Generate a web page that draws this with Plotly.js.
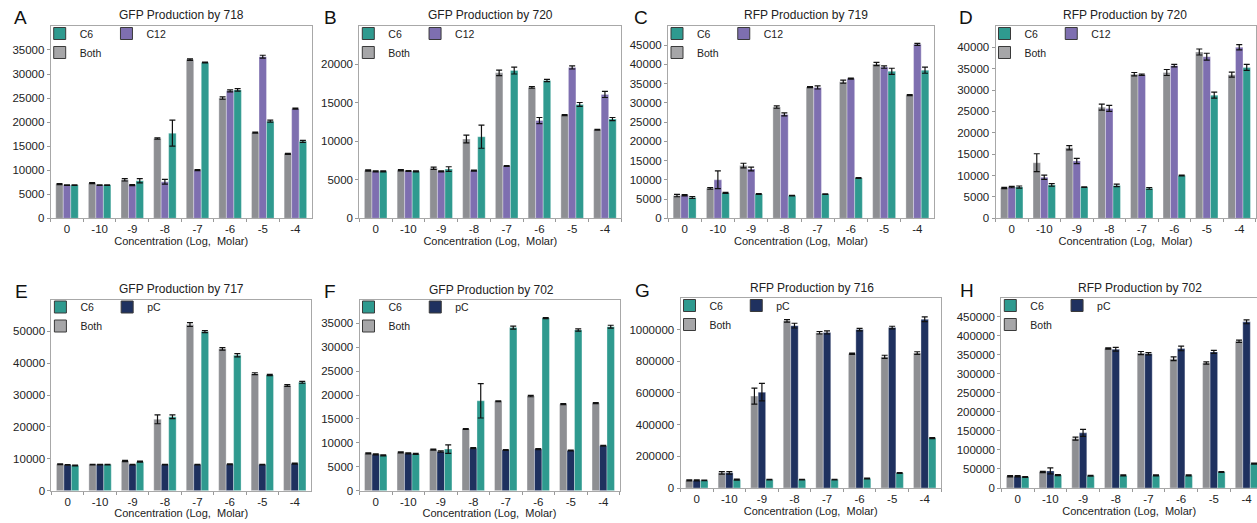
<!DOCTYPE html>
<html><head><meta charset="utf-8">
<script src="https://cdn.plot.ly/plotly-3.0.1.min.js"></script>
<style>html,body{margin:0;padding:0;background:#fff}#chart{width:1257px;height:523px}</style>
</head><body><div id="chart"></div>
<script>
// ---- data ----
const categories = ['0','-10','-9','-8','-7','-6','-5','-4'];

const A_both = [7100, 7300, 8000, 16600, 33000, 25000, 17800, 13400];
const A_both_err = [100, 100, 250, 150, 150, 250, 100, 100];
const A_c12 = [6900, 6900, 6900, 7600, 10000, 26500, 33600, 22800];
const A_c12_err = [80, 80, 100, 500, 100, 200, 300, 100];
const A_c6 = [6900, 6900, 7800, 17700, 32400, 26700, 20200, 16000];
const A_c6_err = [80, 80, 450, 2700, 100, 250, 200, 200];

const B_both = [6200, 6250, 6500, 10300, 18900, 17000, 13400, 11500];
const B_both_err = [80, 80, 150, 500, 350, 100, 60, 60];
const B_c12 = [6100, 6150, 6100, 6200, 6800, 12700, 19600, 16100];
const B_c12_err = [60, 60, 60, 60, 60, 400, 200, 400];
const B_c6 = [6100, 6100, 6400, 10600, 19200, 17900, 14800, 12900];
const B_c6_err = [60, 60, 300, 1500, 450, 150, 250, 200];

const C_both = [5900, 7800, 13700, 28900, 34100, 35500, 40100, 32000];
const C_both_err = [300, 200, 600, 300, 150, 400, 400, 150];
const C_c12 = [6000, 10000, 12800, 27000, 34000, 36300, 39300, 45200];
const C_c12_err = [150, 2300, 500, 400, 400, 150, 300, 250];
const C_c6 = [5400, 6600, 6300, 5900, 6300, 10500, 38200, 38500];
const C_c6_err = [250, 150, 100, 80, 80, 100, 800, 800];

const D_both = [7100, 13000, 16500, 26000, 33700, 34100, 38900, 33600];
const D_both_err = [150, 2100, 500, 700, 400, 700, 700, 600];
const D_c12 = [7300, 9600, 13400, 25700, 33600, 35700, 37800, 40000];
const D_c12_err = [150, 500, 600, 700, 150, 300, 800, 600];
const D_c6 = [7300, 7800, 7300, 7700, 7000, 10000, 28800, 35300];
const D_c6_err = [250, 300, 80, 300, 200, 100, 700, 700];

const E_both = [8300, 8200, 9300, 22400, 52100, 44500, 36700, 33000];
const E_both_err = [150, 100, 200, 1400, 600, 400, 300, 300];
const E_pc = [8100, 8200, 8200, 8200, 8200, 8300, 8200, 8500];
const E_pc_err = [100, 100, 100, 100, 100, 150, 100, 150];
const E_c6 = [7900, 8200, 9100, 23200, 49900, 42500, 36300, 34000];
const E_c6_err = [100, 100, 150, 600, 300, 500, 200, 300];

const F_both = [7800, 8000, 8600, 12900, 18700, 19800, 18100, 18300];
const F_both_err = [100, 100, 100, 100, 100, 150, 100, 100];
const F_pc = [7600, 7800, 8200, 8900, 8500, 8700, 8400, 9400];
const F_pc_err = [100, 100, 150, 100, 80, 100, 100, 100];
const F_c6 = [7400, 7700, 8700, 18800, 34100, 36100, 33600, 34300];
const F_c6_err = [100, 100, 900, 3600, 300, 100, 250, 300];

const G_both = [48000, 96000, 580000, 1055000, 980000, 848000, 828000, 852000];
const G_both_err = [3000, 8000, 50000, 8000, 8000, 4000, 10000, 8000];
const G_pc = [48000, 96000, 605000, 1025000, 982000, 1000000, 1013000, 1065000];
const G_pc_err = [3000, 8000, 55000, 15000, 10000, 8000, 8000, 15000];
const G_c6 = [48000, 53000, 53000, 53000, 53000, 60000, 95000, 315000];
const G_c6_err = [2000, 3000, 2000, 2000, 2000, 2000, 3000, 3000];

const H_both = [31000, 42000, 130000, 367000, 355000, 340000, 329000, 386000];
const H_both_err = [1500, 1500, 4000, 1500, 4000, 5000, 3000, 3000];
const H_pc = [31000, 45000, 145000, 365000, 353000, 367000, 358000, 437000];
const H_pc_err = [1500, 8000, 9000, 5000, 3000, 6000, 4000, 5000];
const H_c6 = [29000, 34000, 32000, 33000, 33000, 33000, 42000, 64000];
const H_c6_err = [1000, 1500, 1000, 1500, 1500, 1500, 1000, 1500];

const yTops = [40000, 25000, 50000, 45000, 60000, 40000, 1200000, 500000];
const yDticks = [5000, 5000, 5000, 5000, 10000, 5000, 200000, 50000];

// ---- panel definitions (layout only) ----
const W = 1257, H = 523;
const panels = [
  {letter:'A', title:'GFP Production by 718', mid:'C12', both:A_both, bothErr:A_both_err, midV:A_c12, midErr:A_c12_err, c6:A_c6, c6Err:A_c6_err,
   l:50.7, r:311.6, t:26, b:218.3, full:261, tx:181, ty:15, lx:12, ly:17.5},
  {letter:'B', title:'GFP Production by 720', mid:'C12', both:B_both, bothErr:B_both_err, midV:B_c12, midErr:B_c12_err, c6:B_c6, c6Err:B_c6_err,
   l:359.3, r:621.4, t:26, b:218.3, full:262, tx:490, ty:15, lx:322, ly:17.5},
  {letter:'C', title:'RFP Production by 719', mid:'C12', both:C_both, bothErr:C_both_err, midV:C_c12, midErr:C_c12_err, c6:C_c6, c6Err:C_c6_err,
   l:668, r:934, t:26, b:218.3, full:266, tx:806, ty:15, lx:632, ly:17.5},
  {letter:'D', title:'RFP Production by 720', mid:'C12', both:D_both, bothErr:D_both_err, midV:D_c12, midErr:D_c12_err, c6:D_c6, c6Err:D_c6_err,
   l:995.5, r:1255.5, t:26, b:218.3, full:260, tx:1125, ty:15, lx:957, ly:17.5},
  {letter:'E', title:'GFP Production by 717', mid:'pC', both:E_both, bothErr:E_both_err, midV:E_pc, midErr:E_pc_err, c6:E_c6, c6Err:E_c6_err,
   l:51.4, r:311, t:299.5, b:490.7, full:259.6, tx:181, ty:289, lx:13, ly:291},
  {letter:'F', title:'GFP Production by 702', mid:'pC', both:F_both, bothErr:F_both_err, midV:F_pc, midErr:F_pc_err, c6:F_c6, c6Err:F_c6_err,
   l:359.5, r:619.5, t:299.5, b:490.7, full:260, tx:491.5, ty:290, lx:322, ly:291},
  {letter:'G', title:'RFP Production by 716', mid:'pC', both:G_both, bothErr:G_both_err, midV:G_pc, midErr:G_pc_err, c6:G_c6, c6Err:G_c6_err,
   l:680.5, r:941, t:298, b:488, full:260.5, tx:811.5, ty:287.5, lx:633, ly:290},
  {letter:'H', title:'RFP Production by 702', mid:'pC', both:H_both, bothErr:H_both_err, midV:H_pc, midErr:H_pc_err, c6:H_c6, c6Err:H_c6_err,
   l:1001.3, r:1257, t:298, b:488, full:261.6, tx:1140, ty:287.5, lx:957.5, ly:290}
];

const colBoth = '#8e8f93', colC12 = '#7e6fb0', colPC = '#1f315f', colC6 = '#2f9a8f';
const FONT = 'Arial, "Liberation Sans", Helvetica, sans-serif';

const data = [];
const layout = {
  width: W, height: H,
  margin: {l:0, r:0, t:0, b:0},
  paper_bgcolor: '#fff', plot_bgcolor: '#fff',
  font: {family: FONT, size: 11.5, color: '#222'},
  barmode: 'group', bargap: 0.31, bargroupgap: 0,
  showlegend: true,
  annotations: []
};

panels.forEach((p, i) => {
  const n = i + 1;
  const xa = 'x' + (n > 1 ? n : ''), ya = 'y' + (n > 1 ? n : '');
  const lg = 'legend' + (n > 1 ? n : '');
  const midCol = p.mid === 'C12' ? colC12 : colPC;
  const errStyle = arr => ({type:'data', array:arr, visible:true, color:'#111', thickness:1.2, width:3});
  const barLine = {color:'rgba(255,255,255,0.55)', width:0.6};
  data.push({type:'bar', x:categories, y:p.both, xaxis:xa, yaxis:ya, name:'Both', offsetgroup:'both',
    marker:{color:colBoth, line:barLine}, error_y:errStyle(p.bothErr), showlegend:false, hoverinfo:'x+y'});
  data.push({type:'bar', x:categories, y:p.midV, xaxis:xa, yaxis:ya, name:p.mid, offsetgroup:'mid',
    marker:{color:midCol, line:barLine}, error_y:errStyle(p.midErr), showlegend:false, hoverinfo:'x+y'});
  data.push({type:'bar', x:categories, y:p.c6, xaxis:xa, yaxis:ya, name:'C6', offsetgroup:'c6',
    marker:{color:colC6, line:barLine}, error_y:errStyle(p.c6Err), showlegend:false, hoverinfo:'x+y'});
  // legend entries
  const legLine = {color:'#3a3a3a', width:1};
  data.push({type:'bar', x:[null], y:[null], xaxis:xa, yaxis:ya, name:'C6', offsetgroup:'c6', legend:lg, legendgroup:'g1',
    marker:{color:colC6, line:legLine}, hoverinfo:'skip'});
  data.push({type:'bar', x:[null], y:[null], xaxis:xa, yaxis:ya, name:'Both', offsetgroup:'both', legend:lg, legendgroup:'g1',
    marker:{color:'#a6a6a8', line:legLine}, hoverinfo:'skip'});
  data.push({type:'bar', x:[null], y:[null], xaxis:xa, yaxis:ya, name:p.mid, offsetgroup:'mid', legend:lg, legendgroup:'g2',
    marker:{color:midCol, line:legLine}, hoverinfo:'skip'});

  const xr = -0.5 + 8 * (p.r - p.l) / p.full;
  layout['xaxis' + (n > 1 ? n : '')] = {
    domain:[p.l / W, p.r / W], anchor:ya, type:'category', range:[-0.5, xr],
    showline:true, linecolor:'#a8a8a8', linewidth:1, mirror:true,
    ticks:'outside', tickson:'boundaries', ticklen:3, tickcolor:'#999', tickwidth:1,
    tickfont:{size:11.5, color:'#222', family:FONT},
    showgrid:false, zeroline:false, fixedrange:true,
    title:{text:'Concentration (Log,\u00a0 Molar)', font:{size:11, color:'#222', family:FONT}, standoff:2}
  };
  layout['yaxis' + (n > 1 ? n : '')] = {
    domain:[1 - p.b / H, 1 - p.t / H], anchor:xa, range:[0, yTops[i] * 0.9995],
    tick0:0, dtick:yDticks[i], tickformat:'d',
    showline:true, linecolor:'#a8a8a8', linewidth:1, mirror:true,
    ticks:'outside', ticklen:3, tickcolor:'#999', tickwidth:1,
    tickfont:{size:11.5, color:'#222', family:FONT},
    showgrid:false, zeroline:false, fixedrange:true
  };
  layout[lg] = {
    x:(p.l - 11) / W, y:1 - (p.t - 7) / H, xanchor:'left', yanchor:'top',
    orientation:'h', traceorder:'grouped', tracegroupgap:0,
    bgcolor:'rgba(0,0,0,0)', borderwidth:0, itemclick:false, itemdoubleclick:false,
    font:{size:10.5, color:'#222', family:FONT}
  };
  layout.annotations.push({xref:'paper', yref:'paper', x:p.tx / W, y:1 - p.ty / H, xanchor:'center', yanchor:'middle',
    text:p.title, showarrow:false, font:{size:12, color:'#222', family:FONT}});
  layout.annotations.push({xref:'paper', yref:'paper', x:p.lx / W, y:1 - p.ly / H, xanchor:'left', yanchor:'middle',
    text:p.letter, showarrow:false, font:{size:19, color:'#111', family:FONT}});
});

Plotly.newPlot('chart', data, layout, {displayModeBar:false, staticPlot:true});
</script>
</body></html>
